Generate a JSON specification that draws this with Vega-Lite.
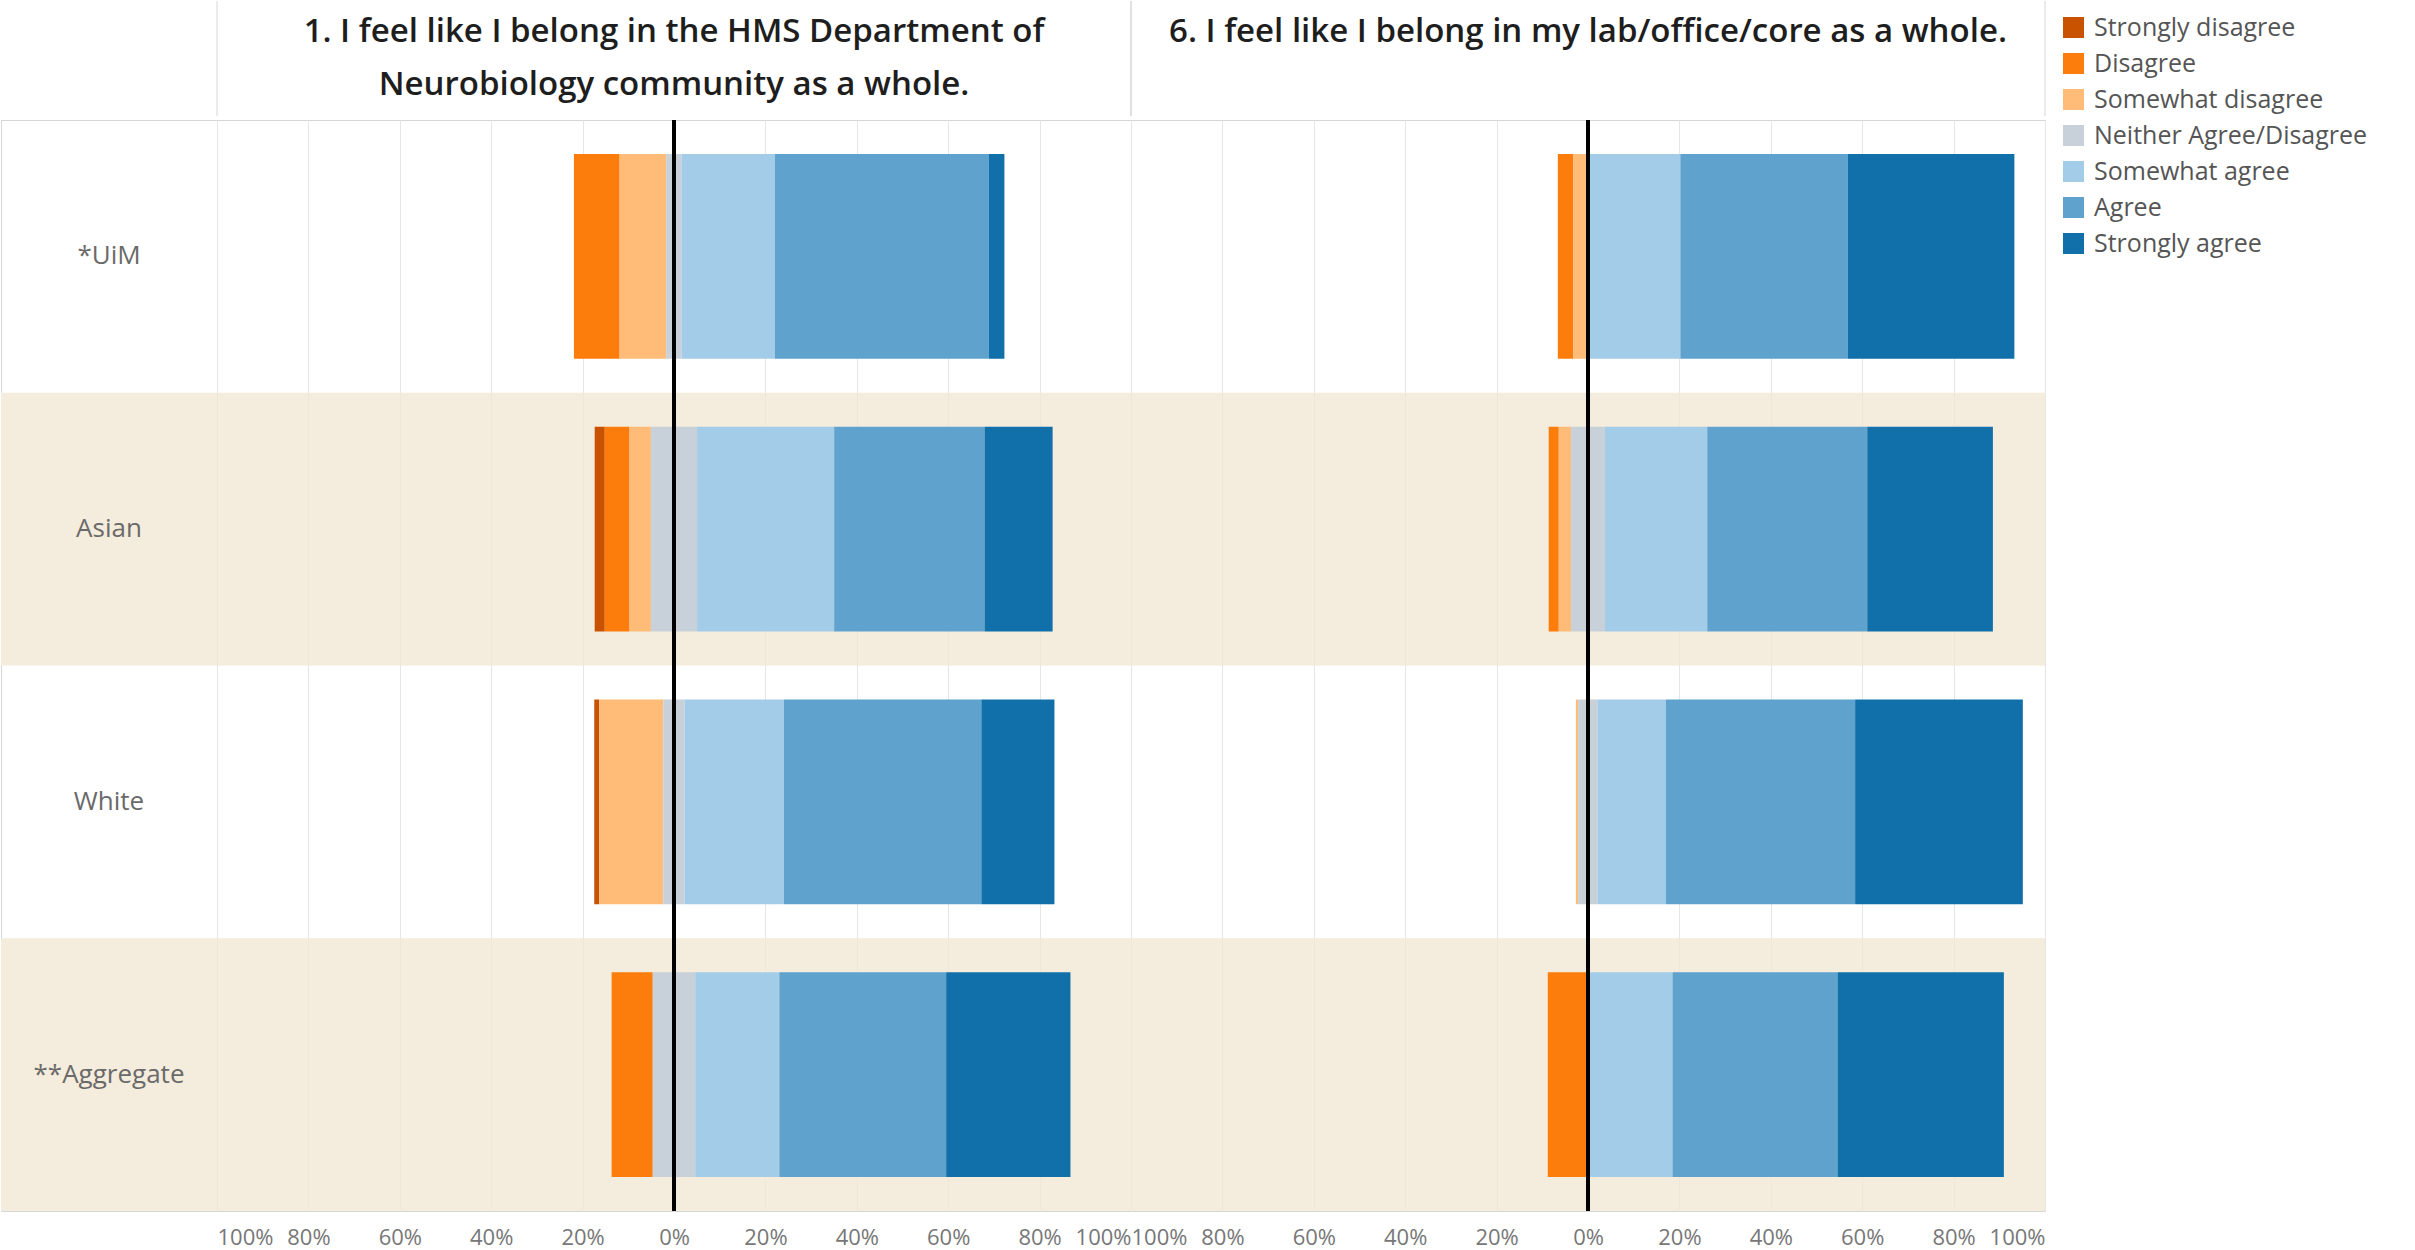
{
  "$schema": "https://vega.github.io/schema/vega-lite/v6.json",
  "background": "white",
  "padding": 0,
  "datasets": {
    "survey": [
      {"q": "q1", "group": "*UiM", "response": "Disagree", "value": -0.100, "level": 2},
      {"q": "q1", "group": "*UiM", "response": "Somewhat disagree", "value": -0.102, "level": 1},
      {"q": "q1", "group": "*UiM", "response": "Neither Agree/Disagree", "value": -0.017, "level": 0},
      {"q": "q1", "group": "*UiM", "response": "Neither Agree/Disagree", "value": 0.017, "level": 0},
      {"q": "q1", "group": "*UiM", "response": "Somewhat agree", "value": 0.204, "level": 1},
      {"q": "q1", "group": "*UiM", "response": "Agree", "value": 0.468, "level": 2},
      {"q": "q1", "group": "*UiM", "response": "Strongly agree", "value": 0.034, "level": 3},
      {"q": "q1", "group": "Asian", "response": "Strongly disagree", "value": -0.022, "level": 3},
      {"q": "q1", "group": "Asian", "response": "Disagree", "value": -0.054, "level": 2},
      {"q": "q1", "group": "Asian", "response": "Somewhat disagree", "value": -0.047, "level": 1},
      {"q": "q1", "group": "Asian", "response": "Neither Agree/Disagree", "value": -0.0505, "level": 0},
      {"q": "q1", "group": "Asian", "response": "Neither Agree/Disagree", "value": 0.0505, "level": 0},
      {"q": "q1", "group": "Asian", "response": "Somewhat agree", "value": 0.300, "level": 1},
      {"q": "q1", "group": "Asian", "response": "Agree", "value": 0.329, "level": 2},
      {"q": "q1", "group": "Asian", "response": "Strongly agree", "value": 0.149, "level": 3},
      {"q": "q1", "group": "White", "response": "Strongly disagree", "value": -0.011, "level": 3},
      {"q": "q1", "group": "White", "response": "Somewhat disagree", "value": -0.140, "level": 1},
      {"q": "q1", "group": "White", "response": "Neither Agree/Disagree", "value": -0.0235, "level": 0},
      {"q": "q1", "group": "White", "response": "Neither Agree/Disagree", "value": 0.0235, "level": 0},
      {"q": "q1", "group": "White", "response": "Somewhat agree", "value": 0.217, "level": 1},
      {"q": "q1", "group": "White", "response": "Agree", "value": 0.432, "level": 2},
      {"q": "q1", "group": "White", "response": "Strongly agree", "value": 0.160, "level": 3},
      {"q": "q1", "group": "**Aggregate", "response": "Disagree", "value": -0.090, "level": 2},
      {"q": "q1", "group": "**Aggregate", "response": "Neither Agree/Disagree", "value": -0.0465, "level": 0},
      {"q": "q1", "group": "**Aggregate", "response": "Neither Agree/Disagree", "value": 0.0465, "level": 0},
      {"q": "q1", "group": "**Aggregate", "response": "Somewhat agree", "value": 0.184, "level": 1},
      {"q": "q1", "group": "**Aggregate", "response": "Agree", "value": 0.365, "level": 2},
      {"q": "q1", "group": "**Aggregate", "response": "Strongly agree", "value": 0.272, "level": 3},
      {"q": "q6", "group": "*UiM", "response": "Disagree", "value": -0.034, "level": 2},
      {"q": "q6", "group": "*UiM", "response": "Somewhat disagree", "value": -0.032, "level": 1},
      {"q": "q6", "group": "*UiM", "response": "Somewhat agree", "value": 0.202, "level": 1},
      {"q": "q6", "group": "*UiM", "response": "Agree", "value": 0.366, "level": 2},
      {"q": "q6", "group": "*UiM", "response": "Strongly agree", "value": 0.365, "level": 3},
      {"q": "q6", "group": "Asian", "response": "Disagree", "value": -0.022, "level": 2},
      {"q": "q6", "group": "Asian", "response": "Somewhat disagree", "value": -0.027, "level": 1},
      {"q": "q6", "group": "Asian", "response": "Neither Agree/Disagree", "value": -0.037, "level": 0},
      {"q": "q6", "group": "Asian", "response": "Neither Agree/Disagree", "value": 0.037, "level": 0},
      {"q": "q6", "group": "Asian", "response": "Somewhat agree", "value": 0.224, "level": 1},
      {"q": "q6", "group": "Asian", "response": "Agree", "value": 0.350, "level": 2},
      {"q": "q6", "group": "Asian", "response": "Strongly agree", "value": 0.275, "level": 3},
      {"q": "q6", "group": "White", "response": "Somewhat disagree", "value": -0.005, "level": 1},
      {"q": "q6", "group": "White", "response": "Neither Agree/Disagree", "value": -0.0215, "level": 0},
      {"q": "q6", "group": "White", "response": "Neither Agree/Disagree", "value": 0.0215, "level": 0},
      {"q": "q6", "group": "White", "response": "Somewhat agree", "value": 0.149, "level": 1},
      {"q": "q6", "group": "White", "response": "Agree", "value": 0.414, "level": 2},
      {"q": "q6", "group": "White", "response": "Strongly agree", "value": 0.367, "level": 3},
      {"q": "q6", "group": "**Aggregate", "response": "Disagree", "value": -0.088, "level": 2},
      {"q": "q6", "group": "**Aggregate", "response": "Somewhat agree", "value": 0.185, "level": 1},
      {"q": "q6", "group": "**Aggregate", "response": "Agree", "value": 0.361, "level": 2},
      {"q": "q6", "group": "**Aggregate", "response": "Strongly agree", "value": 0.364, "level": 3}
    ],
    "groups": [
      {"group": "*UiM"},
      {"group": "Asian"},
      {"group": "White"},
      {"group": "**Aggregate"}
    ],
    "headers": [
      {"q": "q1", "line": 1, "text": "1. I feel like I belong in the HMS Department of"},
      {"q": "q1", "line": 2, "text": "Neurobiology community as a whole."},
      {"q": "q6", "line": 1, "text": "6. I feel like I belong in my lab/office/core as a whole."}
    ]
  },
  "vconcat": [
    {
      "hconcat": [
        {
          "width": 216,
          "height": 115,
          "view": {"stroke": null},
          "data": {"values": [{}]},
          "mark": {"type": "text"},
          "encoding": {"text": {"value": ""}}
        },
        {
          "width": 914,
          "height": 115,
          "view": {"stroke": null},
          "layer": [
            {
              "data": {"name": "headers"},
              "transform": [{"filter": "datum.q == 'q1'"}],
              "mark": {"type": "text", "fontSize": 33, "fontWeight": 600, "color": "#1e1e1e"},
              "encoding": {
                "y": {"field": "line", "type": "ordinal", "scale": {"type": "point", "domain": [1, 2], "padding": 0.6}, "axis": null},
                "text": {"field": "text"}
              }
            },
            {
              "data": {"values": [{}]},
              "mark": {"type": "rule", "color": "#d6d6d6", "strokeWidth": 1},
              "encoding": {"x": {"datum": 0, "type": "quantitative", "scale": {"domain": [0, 1], "nice": false}, "axis": null}}
            },
            {
              "data": {"values": [{}]},
              "mark": {"type": "rule", "color": "#d6d6d6", "strokeWidth": 1},
              "encoding": {"x": {"datum": 1, "type": "quantitative", "scale": {"domain": [0, 1], "nice": false}, "axis": null}}
            }
          ]
        },
        {
          "width": 914,
          "height": 115,
          "view": {"stroke": null},
          "layer": [
            {
              "data": {"name": "headers"},
              "transform": [{"filter": "datum.q == 'q6'"}],
              "mark": {"type": "text", "fontSize": 33, "fontWeight": 600, "color": "#1e1e1e"},
              "encoding": {
                "y": {"field": "line", "type": "ordinal", "scale": {"type": "point", "domain": [1, 2], "padding": 0.6}, "axis": null},
                "text": {"field": "text"}
              }
            },
            {
              "data": {"values": [{}]},
              "mark": {"type": "rule", "color": "#d6d6d6", "strokeWidth": 1},
              "encoding": {"x": {"datum": 0, "type": "quantitative", "scale": {"domain": [0, 1], "nice": false}, "axis": null}}
            },
            {
              "data": {"values": [{}]},
              "mark": {"type": "rule", "color": "#d6d6d6", "strokeWidth": 1},
              "encoding": {"x": {"datum": 1, "type": "quantitative", "scale": {"domain": [0, 1], "nice": false}, "axis": null}}
            }
          ]
        }
      ],
      "spacing": 0,
      "bounds": "flush",
      "resolve": {"scale": {"x": "independent", "y": "independent"}}
    },
    {
      "hconcat": [
        {
          "width": 216,
          "height": 1091,
          "layer": [
            {
              "data": {"name": "groups"},
              "transform": [{"filter": {"field": "group", "oneOf": ["Asian", "**Aggregate"]}}],
              "mark": {"type": "rect", "color": "#f4ecdc"},
              "encoding": {
                "y": {"field": "group", "type": "nominal", "scale": {"domain": ["*UiM", "Asian", "White", "**Aggregate"], "paddingInner": 0, "paddingOuter": 0}, "axis": null},
                "x": {"datum": 0, "type": "quantitative", "scale": {"domain": [0, 1], "nice": false}, "axis": null},
                "x2": {"datum": 1}
              }
            },
            {
              "data": {"name": "groups"},
              "mark": {"type": "text", "fontSize": 26, "color": "#6a6a6a"},
              "encoding": {
                "y": {"field": "group", "type": "nominal", "scale": {"domain": ["*UiM", "Asian", "White", "**Aggregate"], "paddingInner": 0, "paddingOuter": 0}, "axis": null},
                "text": {"field": "group"}
              }
            }
          ]
        },
        {
          "width": 914,
          "height": 1091,
          "layer": [
            {
              "data": {"name": "groups"},
              "transform": [{"filter": {"field": "group", "oneOf": ["Asian", "**Aggregate"]}}],
              "mark": {"type": "rect", "color": "#f1e7d3", "opacity": 0.8},
              "encoding": {
                "y": {"field": "group", "type": "nominal", "scale": {"domain": ["*UiM", "Asian", "White", "**Aggregate"], "paddingInner": 0, "paddingOuter": 0}, "axis": null},
                "x": {"datum": -1, "type": "quantitative", "scale": {"domain": [-1, 1], "nice": false, "zero": false},
                  "axis": {"title": null, "values": [-1, -0.8, -0.6, -0.4, -0.2, 0, 0.2, 0.4, 0.6, 0.8, 1], "labelExpr": "format(abs(datum.value), '.0%')", "labelFlush": true, "labelOverlap": false, "labelFontSize": 22, "labelColor": "#777777", "labelPadding": 16, "grid": true, "gridColor": "#e6e6e6", "domain": false, "ticks": false}},
                "x2": {"datum": 1}
              }
            },
            {
              "data": {"name": "survey"},
              "transform": [{"filter": "datum.q == 'q1'"}],
              "mark": {"type": "bar", "height": {"band": 0.75}},
              "encoding": {
                "y": {"field": "group", "type": "nominal", "scale": {"domain": ["*UiM", "Asian", "White", "**Aggregate"], "paddingInner": 0, "paddingOuter": 0}, "axis": null},
                "x": {"field": "value", "type": "quantitative", "stack": "zero", "scale": {"domain": [-1, 1], "nice": false, "zero": false},
                  "axis": {"title": null, "values": [-1, -0.8, -0.6, -0.4, -0.2, 0, 0.2, 0.4, 0.6, 0.8, 1], "labelExpr": "format(abs(datum.value), '.0%')", "labelFlush": true, "labelOverlap": false, "labelFontSize": 22, "labelColor": "#777777", "labelPadding": 16, "grid": true, "gridColor": "#e6e6e6", "domain": false, "ticks": false}},
                "color": {"field": "response", "type": "nominal",
                  "scale": {"domain": ["Strongly disagree", "Disagree", "Somewhat disagree", "Neither Agree/Disagree", "Somewhat agree", "Agree", "Strongly agree"],
                            "range": ["#c85200", "#fc7d0b", "#ffbc79", "#c8d0d9", "#a3cce9", "#5fa2ce", "#1170aa"]},
                  "legend": {"title": null, "orient": "right", "offset": 1, "labelFontSize": 25, "labelColor": "#555555", "labelLimit": 500, "symbolType": "square", "symbolSize": 440, "symbolStrokeWidth": 0, "symbolOpacity": 1, "rowPadding": 10, "labelOffset": 8, "padding": 14}},
                "order": {"field": "level", "type": "quantitative"}
              }
            },
            {
              "data": {"values": [{}]},
              "mark": {"type": "rule", "color": "#000000", "strokeWidth": 4},
              "encoding": {
                "x": {"datum": 0, "type": "quantitative", "scale": {"domain": [-1, 1], "nice": false, "zero": false},
                  "axis": {"title": null, "values": [-1, -0.8, -0.6, -0.4, -0.2, 0, 0.2, 0.4, 0.6, 0.8, 1], "labelExpr": "format(abs(datum.value), '.0%')", "labelFlush": true, "labelOverlap": false, "labelFontSize": 22, "labelColor": "#777777", "labelPadding": 16, "grid": true, "gridColor": "#e6e6e6", "domain": false, "ticks": false}}
              }
            }
          ]
        },
        {
          "width": 914,
          "height": 1091,
          "layer": [
            {
              "data": {"name": "groups"},
              "transform": [{"filter": {"field": "group", "oneOf": ["Asian", "**Aggregate"]}}],
              "mark": {"type": "rect", "color": "#f1e7d3", "opacity": 0.8},
              "encoding": {
                "y": {"field": "group", "type": "nominal", "scale": {"domain": ["*UiM", "Asian", "White", "**Aggregate"], "paddingInner": 0, "paddingOuter": 0}, "axis": null},
                "x": {"datum": -1, "type": "quantitative", "scale": {"domain": [-1, 1], "nice": false, "zero": false},
                  "axis": {"title": null, "values": [-1, -0.8, -0.6, -0.4, -0.2, 0, 0.2, 0.4, 0.6, 0.8, 1], "labelExpr": "format(abs(datum.value), '.0%')", "labelFlush": true, "labelOverlap": false, "labelFontSize": 22, "labelColor": "#777777", "labelPadding": 16, "grid": true, "gridColor": "#e6e6e6", "domain": false, "ticks": false}},
                "x2": {"datum": 1}
              }
            },
            {
              "data": {"name": "survey"},
              "transform": [{"filter": "datum.q == 'q6'"}],
              "mark": {"type": "bar", "height": {"band": 0.75}},
              "encoding": {
                "y": {"field": "group", "type": "nominal", "scale": {"domain": ["*UiM", "Asian", "White", "**Aggregate"], "paddingInner": 0, "paddingOuter": 0}, "axis": null},
                "x": {"field": "value", "type": "quantitative", "stack": "zero", "scale": {"domain": [-1, 1], "nice": false, "zero": false},
                  "axis": {"title": null, "values": [-1, -0.8, -0.6, -0.4, -0.2, 0, 0.2, 0.4, 0.6, 0.8, 1], "labelExpr": "format(abs(datum.value), '.0%')", "labelFlush": true, "labelOverlap": false, "labelFontSize": 22, "labelColor": "#777777", "labelPadding": 16, "grid": true, "gridColor": "#e6e6e6", "domain": false, "ticks": false}},
                "color": {"field": "response", "type": "nominal",
                  "scale": {"domain": ["Strongly disagree", "Disagree", "Somewhat disagree", "Neither Agree/Disagree", "Somewhat agree", "Agree", "Strongly agree"],
                            "range": ["#c85200", "#fc7d0b", "#ffbc79", "#c8d0d9", "#a3cce9", "#5fa2ce", "#1170aa"]},
                  "legend": {"title": null, "orient": "right", "offset": 1, "labelFontSize": 25, "labelColor": "#555555", "labelLimit": 500, "symbolType": "square", "symbolSize": 440, "symbolStrokeWidth": 0, "symbolOpacity": 1, "rowPadding": 10, "labelOffset": 8, "padding": 14}},
                "order": {"field": "level", "type": "quantitative"}
              }
            },
            {
              "data": {"values": [{}]},
              "mark": {"type": "rule", "color": "#000000", "strokeWidth": 4},
              "encoding": {
                "x": {"datum": 0, "type": "quantitative", "scale": {"domain": [-1, 1], "nice": false, "zero": false},
                  "axis": {"title": null, "values": [-1, -0.8, -0.6, -0.4, -0.2, 0, 0.2, 0.4, 0.6, 0.8, 1], "labelExpr": "format(abs(datum.value), '.0%')", "labelFlush": true, "labelOverlap": false, "labelFontSize": 22, "labelColor": "#777777", "labelPadding": 16, "grid": true, "gridColor": "#e6e6e6", "domain": false, "ticks": false}}
              }
            }
          ]
        }
      ],
      "spacing": 0,
      "bounds": "flush",
      "resolve": {"scale": {"x": "independent", "y": "shared", "color": "shared"}, "legend": {"color": "shared"}}
    }
  ],
  "spacing": 0,
  "resolve": {"scale": {"x": "independent", "y": "independent", "color": "shared"}, "legend": {"color": "shared"}},
  "config": {
    "font": "Open Sans",
    "view": {"stroke": "#d6d6d6", "strokeWidth": 1},
    "axis": {"domain": false, "ticks": false}
  }
}
